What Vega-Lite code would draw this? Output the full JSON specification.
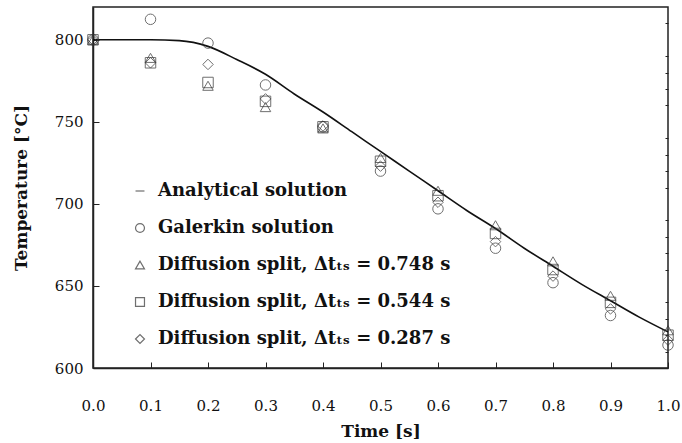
{
  "$schema": "https://vega.github.io/schema/vega-lite/v6.json",
  "width": 575,
  "height": 361,
  "autosize": {"type": "none"},
  "padding": {"left": 93, "top": 7, "right": 14, "bottom": 75},
  "background": "white",
  "config": {
    "font": "DejaVu Serif",
    "view": {"stroke": "#222", "strokeWidth": 1.5},
    "axis": {
      "grid": false,
      "domainColor": "#222",
      "domainWidth": 1.5,
      "tickColor": "#222",
      "labelColor": "#111",
      "labelFont": "DejaVu Serif",
      "labelFontSize": 15,
      "titleFont": "DejaVu Serif",
      "titleFontSize": 17,
      "titleFontWeight": "bold",
      "titleColor": "#111"
    }
  },
  "datasets": {
    "curve": [
      {"t": 0.0, "v": 800}, {"t": 0.05, "v": 800}, {"t": 0.1, "v": 800}, {"t": 0.15, "v": 799.5},
      {"t": 0.2, "v": 796}, {"t": 0.25, "v": 788}, {"t": 0.3, "v": 779}, {"t": 0.35, "v": 767},
      {"t": 0.4, "v": 756}, {"t": 0.45, "v": 744}, {"t": 0.5, "v": 732}, {"t": 0.55, "v": 720},
      {"t": 0.6, "v": 708}, {"t": 0.65, "v": 696}, {"t": 0.7, "v": 685}, {"t": 0.75, "v": 673},
      {"t": 0.8, "v": 662}, {"t": 0.85, "v": 651}, {"t": 0.9, "v": 641}, {"t": 0.95, "v": 631},
      {"t": 1.0, "v": 622}
    ],
    "pts": [
      {"t": 0.0, "v": 800, "s": "Galerkin solution"},
      {"t": 0.1, "v": 812.5, "s": "Galerkin solution"},
      {"t": 0.2, "v": 798, "s": "Galerkin solution"},
      {"t": 0.3, "v": 772.5, "s": "Galerkin solution"},
      {"t": 0.4, "v": 747, "s": "Galerkin solution"},
      {"t": 0.5, "v": 720, "s": "Galerkin solution"},
      {"t": 0.6, "v": 697, "s": "Galerkin solution"},
      {"t": 0.7, "v": 673, "s": "Galerkin solution"},
      {"t": 0.8, "v": 652, "s": "Galerkin solution"},
      {"t": 0.9, "v": 632, "s": "Galerkin solution"},
      {"t": 1.0, "v": 614, "s": "Galerkin solution"},
      {"t": 0.0, "v": 800, "s": "Diffusion split, Δtₜₛ = 0.748 s"},
      {"t": 0.1, "v": 789, "s": "Diffusion split, Δtₜₛ = 0.748 s"},
      {"t": 0.2, "v": 772, "s": "Diffusion split, Δtₜₛ = 0.748 s"},
      {"t": 0.3, "v": 759, "s": "Diffusion split, Δtₜₛ = 0.748 s"},
      {"t": 0.4, "v": 746, "s": "Diffusion split, Δtₜₛ = 0.748 s"},
      {"t": 0.5, "v": 728, "s": "Diffusion split, Δtₜₛ = 0.748 s"},
      {"t": 0.6, "v": 708, "s": "Diffusion split, Δtₜₛ = 0.748 s"},
      {"t": 0.7, "v": 687, "s": "Diffusion split, Δtₜₛ = 0.748 s"},
      {"t": 0.8, "v": 665, "s": "Diffusion split, Δtₜₛ = 0.748 s"},
      {"t": 0.9, "v": 644, "s": "Diffusion split, Δtₜₛ = 0.748 s"},
      {"t": 1.0, "v": 623, "s": "Diffusion split, Δtₜₛ = 0.748 s"},
      {"t": 0.0, "v": 800, "s": "Diffusion split, Δtₜₛ = 0.544 s"},
      {"t": 0.1, "v": 786, "s": "Diffusion split, Δtₜₛ = 0.544 s"},
      {"t": 0.2, "v": 774, "s": "Diffusion split, Δtₜₛ = 0.544 s"},
      {"t": 0.3, "v": 762.5, "s": "Diffusion split, Δtₜₛ = 0.544 s"},
      {"t": 0.4, "v": 747, "s": "Diffusion split, Δtₜₛ = 0.544 s"},
      {"t": 0.5, "v": 726, "s": "Diffusion split, Δtₜₛ = 0.544 s"},
      {"t": 0.6, "v": 705, "s": "Diffusion split, Δtₜₛ = 0.544 s"},
      {"t": 0.7, "v": 682, "s": "Diffusion split, Δtₜₛ = 0.544 s"},
      {"t": 0.8, "v": 660, "s": "Diffusion split, Δtₜₛ = 0.544 s"},
      {"t": 0.9, "v": 640, "s": "Diffusion split, Δtₜₛ = 0.544 s"},
      {"t": 1.0, "v": 620, "s": "Diffusion split, Δtₜₛ = 0.544 s"},
      {"t": 0.0, "v": 800, "s": "Diffusion split, Δtₜₛ = 0.287 s"},
      {"t": 0.1, "v": 786, "s": "Diffusion split, Δtₜₛ = 0.287 s"},
      {"t": 0.2, "v": 785, "s": "Diffusion split, Δtₜₛ = 0.287 s"},
      {"t": 0.3, "v": 764, "s": "Diffusion split, Δtₜₛ = 0.287 s"},
      {"t": 0.4, "v": 747.5, "s": "Diffusion split, Δtₜₛ = 0.287 s"},
      {"t": 0.5, "v": 723, "s": "Diffusion split, Δtₜₛ = 0.287 s"},
      {"t": 0.6, "v": 701, "s": "Diffusion split, Δtₜₛ = 0.287 s"},
      {"t": 0.7, "v": 677, "s": "Diffusion split, Δtₜₛ = 0.287 s"},
      {"t": 0.8, "v": 656, "s": "Diffusion split, Δtₜₛ = 0.287 s"},
      {"t": 0.9, "v": 636, "s": "Diffusion split, Δtₜₛ = 0.287 s"},
      {"t": 1.0, "v": 617, "s": "Diffusion split, Δtₜₛ = 0.287 s"}
    ]
  },
  "resolve": {"axis": {"y": "independent"}},
  "layer": [
    {
      "data": {"name": "curve"},
      "mark": {"type": "line", "interpolate": "monotone", "color": "#111", "strokeWidth": 1.6},
      "encoding": {
        "x": {
          "field": "t", "type": "quantitative",
          "scale": {"domain": [0, 1], "nice": false},
          "axis": {
            "title": "Time [s]",
            "values": [0, 0.1, 0.2, 0.3, 0.4, 0.5, 0.6, 0.7, 0.8, 0.9, 1.0],
            "format": ".1f",
            "tickSize": -6,
            "labelPadding": 36,
            "titlePadding": 10,
            "labelFlush": false
          }
        },
        "y": {
          "field": "v", "type": "quantitative",
          "scale": {"domain": [600, 820], "nice": false, "zero": false},
          "axis": {
            "title": "Temperature [°C]",
            "values": [600, 650, 700, 750, 800],
            "tickSize": -6,
            "labelPadding": 16,
            "titlePadding": 24,
            "labelFlush": false
          }
        }
      }
    },
    {
      "data": {"name": "pts"},
      "mark": {"type": "point", "filled": false, "size": 110, "strokeWidth": 1, "color": "#333"},
      "encoding": {
        "x": {"field": "t", "type": "quantitative"},
        "y": {
          "field": "v", "type": "quantitative",
          "axis": {
            "title": null,
            "labels": false,
            "domain": false,
            "values": [610, 620, 630, 640, 660, 670, 680, 690, 710, 720, 730, 740, 760, 770, 780, 790, 810],
            "tickSize": -3
          }
        },
        "shape": {
          "field": "s", "type": "nominal",
          "scale": {
            "domain": ["Analytical solution", "Galerkin solution", "Diffusion split, Δtₜₛ = 0.748 s", "Diffusion split, Δtₜₛ = 0.544 s", "Diffusion split, Δtₜₛ = 0.287 s"],
            "range": ["stroke", "circle", "triangle-up", "square", "diamond"]
          },
          "legend": {
            "title": null,
            "orient": "none",
            "legendX": 38,
            "legendY": 175,
            "labelFont": "DejaVu Serif",
            "labelFontSize": 18,
            "labelFontWeight": "bold",
            "labelColor": "#111",
            "labelLimit": 450,
            "labelOffset": 9,
            "rowPadding": 19,
            "symbolSize": 80,
            "symbolStrokeWidth": 1.2,
            "symbolStrokeColor": "#333",
            "symbolFillColor": "transparent"
          }
        }
      }
    }
  ]
}
